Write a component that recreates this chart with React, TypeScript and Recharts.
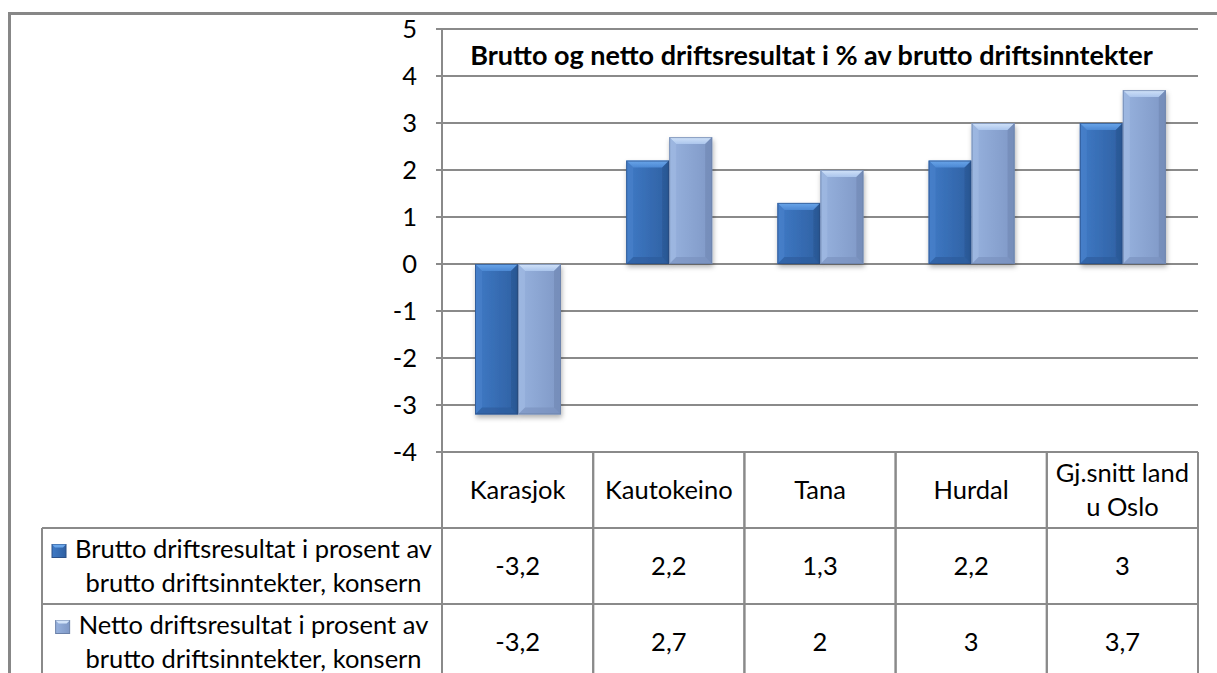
import React from 'react';
import { BarChart, Bar, XAxis, YAxis, CartesianGrid } from 'recharts';

// ---------- data ----------
const categories = ['Karasjok', 'Kautokeino', 'Tana', 'Hurdal', 'Gj.snitt land u Oslo'];
const bruttoValues = [-3.2, 2.2, 1.3, 2.2, 3];
const nettoValues = [-3.2, 2.7, 2, 3, 3.7];
const seriesNames = [
  'Brutto driftsresultat i prosent av brutto driftsinntekter, konsern',
  'Netto driftsresultat i prosent av brutto driftsinntekter, konsern',
];
const yTicks = [-4, -3, -2, -1, 0, 1, 2, 3, 4, 5];
const chartTitle = 'Brutto og netto driftsresultat i % av brutto driftsinntekter';

const data = categories.map((c, i) => ({ category: c, brutto: bruttoValues[i], netto: nettoValues[i] }));
const seriesValues = [bruttoValues, nettoValues];

// ---------- layout / style ----------
const W = 1217;
const H = 673;
const MARGIN = { top: 29, right: 19, bottom: 0, left: 0 };
const YAXIS_W = 442;
const XAXIS_H = H - 452;
const PLOT_W = W - YAXIS_W - MARGIN.right;
const COL_W = PLOT_W / categories.length;
const ROW_H = 76;
const LEGEND_W = 400;
const LINE_GAP = 34;
const BASE_OFF = 46.5;
const FONT = "Lato, 'Open Sans', sans-serif";
const FS = 25.5;
const GRID = '#8a8a8a';
const GRID_W = 2;

const PAL = [
  { id: 's1', bodyL: '#3f7ac6', bodyR: '#2f60a2', topA: '#6aa6ea', topB: '#4c88d3', left: '#4a83cc', right: '#2a5591', bottom: '#2c5a99', edge: '#2b5088' },
  { id: 's2', bodyL: '#97b2de', bodyR: '#7f98c6', topA: '#d2e3f9', topB: '#abc5ec', left: '#a2bbe3', right: '#6f87b3', bottom: '#7890bd', edge: '#6a80a8' },
];

let ctx: CanvasRenderingContext2D | null = null;
function measure(text: string, size = FS, weight = 'normal') {
  if (!ctx) ctx = document.createElement('canvas').getContext('2d');
  if (!ctx) return text.length * size * 0.5;
  ctx.font = `${weight} ${size}px ${FONT}`;
  return ctx.measureText(text).width;
}
function wrap(text: string, maxW: number) {
  const words = text.split(' ');
  const lines: string[] = [];
  let cur = '';
  for (const w of words) {
    const t = cur ? cur + ' ' + w : w;
    if (cur && measure(t) > maxW) {
      lines.push(cur);
      cur = w;
    } else cur = t;
  }
  if (cur) lines.push(cur);
  return lines;
}
const fmt = (v: number) => String(v).replace('.', ',');

function BevelBar(props: any) {
  const { x, y, width, height, pal } = props;
  if (width == null || height == null) return null;
  let top = y;
  let h = height;
  if (h < 0) {
    top = y + h;
    h = -h;
  }
  const w = width;
  const b = Math.max(0, Math.min(7, h / 2, w / 2));
  const x0 = x, x1 = x + w, y0 = top, y1 = top + h;
  return (
    <g filter="url(#barShadow)">
      <rect x={x0} y={y0} width={w} height={h} fill={`url(#body-${pal.id})`} />
      <polygon points={`${x0},${y0} ${x1},${y0} ${x1 - b},${y0 + b} ${x0 + b},${y0 + b}`} fill={`url(#top-${pal.id})`} />
      <polygon points={`${x0},${y0} ${x0 + b},${y0 + b} ${x0 + b},${y1 - b} ${x0},${y1}`} fill={pal.left} opacity={0.55} />
      <polygon points={`${x1},${y0} ${x1},${y1} ${x1 - b},${y1 - b} ${x1 - b},${y0 + b}`} fill={pal.right} opacity={0.6} />
      <polygon points={`${x0},${y1} ${x0 + b},${y1 - b} ${x1 - b},${y1 - b} ${x1},${y1}`} fill={pal.bottom} opacity={0.6} />
      <rect x={x0 + 0.5} y={y0 + 0.5} width={Math.max(0, w - 1)} height={Math.max(0, h - 1)} fill="none" stroke={pal.edge} strokeWidth={1} opacity={0.7} />
    </g>
  );
}

function LegendIcon({ x, y, pal }: { x: number; y: number; pal: any }) {
  const s = 13;
  return (
    <g>
      <rect x={x} y={y} width={s + 1} height={s} fill={`url(#body-${pal.id})`} stroke={pal.edge} strokeWidth={1} />
      <polygon points={`${x},${y} ${x + s + 1},${y} ${x + s - 2},${y + 3} ${x + 3},${y + 3}`} fill={pal.topA} />
    </g>
  );
}

function YTick(props: any) {
  const { x, y, payload } = props;
  return (
    <text x={x} y={y} dy="0.36em" textAnchor="end" fontFamily={FONT} fontSize={FS} fill="#000">
      {payload.value}
    </text>
  );
}

function CellText({ cx, top, lines }: { cx: number; top: number; lines: string[] }) {
  const base = top + BASE_OFF - ((lines.length - 1) * LINE_GAP) / 2;
  return (
    <g>
      {lines.map((l, i) => (
        <text key={i} x={cx} y={base + i * LINE_GAP} textAnchor="middle" fontFamily={FONT} fontSize={FS} fill="#000">
          {l}
        </text>
      ))}
    </g>
  );
}

function TableTick(props: any) {
  const { x, y, payload } = props;
  const index = payload?.index ?? props.index ?? 0;
  const left = x - COL_W / 2;
  const right = x + COL_W / 2;
  const bottom = H + 10;
  const catLines = wrap(String(payload.value), COL_W - 6);
  const rows = seriesValues.map((vals) => fmt(vals[index]));
  const elems: React.ReactNode[] = [];
  elems.push(<line key="vl" x1={left} y1={y} x2={left} y2={bottom} stroke={GRID} strokeWidth={GRID_W} />);
  elems.push(<line key="vr" x1={right} y1={y} x2={right} y2={bottom} stroke={GRID} strokeWidth={GRID_W} />);
  for (let r = 1; r <= seriesValues.length; r++) {
    elems.push(<line key={'h' + r} x1={left} y1={y + r * ROW_H} x2={right} y2={y + r * ROW_H} stroke={GRID} strokeWidth={GRID_W} />);
  }
  elems.push(<CellText key="cat" cx={x} top={y} lines={catLines} />);
  rows.forEach((v, r) => elems.push(<CellText key={'v' + r} cx={x} top={y + (r + 1) * ROW_H} lines={[v]} />));

  if (index === 0) {
    const lx0 = left - LEGEND_W;
    elems.push(<line key="lv" x1={lx0} y1={y + ROW_H} x2={lx0} y2={bottom} stroke={GRID} strokeWidth={GRID_W} />);
    for (let r = 1; r <= seriesValues.length; r++) {
      elems.push(<line key={'lh' + r} x1={lx0} y1={y + r * ROW_H} x2={left} y2={y + r * ROW_H} stroke={GRID} strokeWidth={GRID_W} />);
    }
    const iconW = 14;
    const gap = 9;
    const center = lx0 + LEGEND_W / 2 + (iconW + gap) / 2;
    seriesNames.forEach((name, r) => {
      const lines = wrap(name, LEGEND_W - 20);
      const rowTop = y + (r + 1) * ROW_H;
      const base = rowTop + BASE_OFF - ((lines.length - 1) * LINE_GAP) / 2;
      const w0 = measure(lines[0]);
      elems.push(<LegendIcon key={'li' + r} x={center - w0 / 2 - gap - iconW} y={base - 13} pal={PAL[r]} />);
      elems.push(<CellText key={'lt' + r} cx={center} top={rowTop} lines={lines} />);
    });
  }
  return <g>{elems}</g>;
}

export default function App() {
  return (
    <div style={{ position: 'absolute', left: 0, top: 0, width: W, height: H, background: '#fff', overflow: 'hidden' }}>
      <BarChart width={W} height={H} data={data} margin={MARGIN} barGap={0} barSize={43}>
        <defs>
          {PAL.map((p) => (
            <React.Fragment key={p.id}>
              <linearGradient id={`body-${p.id}`} x1="0" y1="0" x2="1" y2="0">
                <stop offset="0%" stopColor={p.bodyL} />
                <stop offset="100%" stopColor={p.bodyR} />
              </linearGradient>
              <linearGradient id={`top-${p.id}`} x1="0" y1="0" x2="0" y2="1">
                <stop offset="0%" stopColor={p.topA} />
                <stop offset="100%" stopColor={p.topB} />
              </linearGradient>
            </React.Fragment>
          ))}
          <filter id="barShadow" x="-20%" y="-20%" width="140%" height="140%">
            <feDropShadow dx="1" dy="3" stdDeviation="2.5" floodColor="#000" floodOpacity="0.3" />
          </filter>
        </defs>
        <CartesianGrid vertical={false} stroke={GRID} strokeWidth={GRID_W} />
        <XAxis
          dataKey="category"
          height={XAXIS_H}
          interval={0}
          tickSize={0}
          tickMargin={0}
          tickLine={false}
          axisLine={{ stroke: GRID, strokeWidth: GRID_W }}
          tick={<TableTick />}
        />
        <YAxis
          width={YAXIS_W}
          domain={[-4, 5]}
          ticks={yTicks}
          interval={0}
          tickSize={6}
          tickMargin={19}
          tickLine={{ stroke: GRID, strokeWidth: GRID_W }}
          axisLine={{ stroke: GRID, strokeWidth: GRID_W }}
          tick={<YTick />}
        />
        <Bar dataKey="brutto" name={seriesNames[0]} isAnimationActive={false} shape={(p: any) => <BevelBar {...p} pal={PAL[0]} />} />
        <Bar dataKey="netto" name={seriesNames[1]} isAnimationActive={false} shape={(p: any) => <BevelBar {...p} pal={PAL[1]} />} />
      </BarChart>
      <svg width={W} height={H} style={{ position: 'absolute', left: 0, top: 0, pointerEvents: 'none' }}>
        <line x1={8} y1={13.5} x2={W} y2={13.5} stroke="#878787" strokeWidth={3} />
        <line x1={9.5} y1={12} x2={9.5} y2={H} stroke="#878787" strokeWidth={3} />
        <text x={811.5} y={65} textAnchor="middle" fontFamily={FONT} fontWeight="bold" fontSize={27} fill="#000">
          {chartTitle}
        </text>
      </svg>
    </div>
  );
}
